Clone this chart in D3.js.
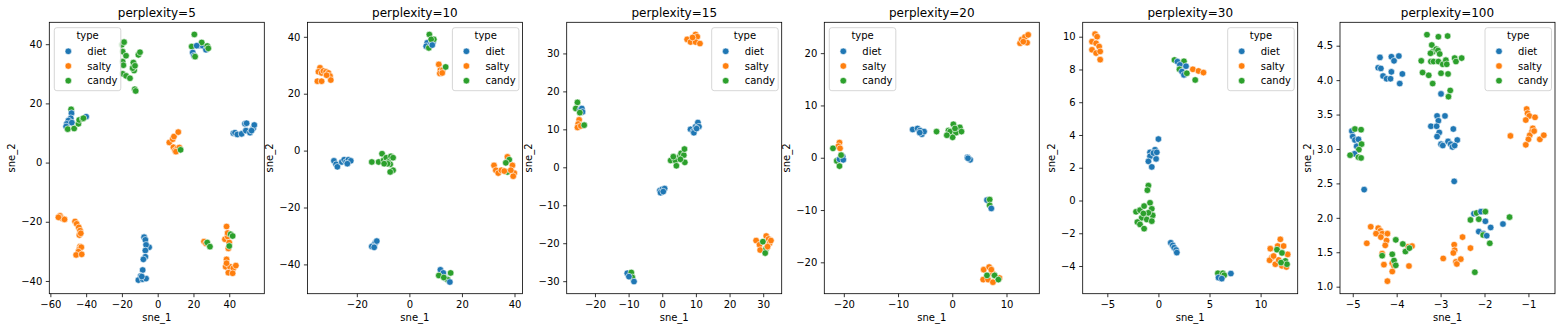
<!DOCTYPE html>
<html><head><meta charset="utf-8">
<script src="https://cdn.jsdelivr.net/npm/d3@7"></script>
<style>body{margin:0;background:#fff} text{font-family:"DejaVu Sans",sans-serif}</style>
</head><body><svg id="c" width="1563" height="333"></svg>
<script>
const types = ["diet","salty","candy"];
const titles = ["perplexity=5","perplexity=10","perplexity=15","perplexity=20","perplexity=30","perplexity=100"];

// [sne_1, sne_2, type]
const perp5 = [
[-20.1,39.8,"candy"],[-18.8,40.7,"candy"],[-19.6,37.5,"candy"],[-17.7,36.1,"candy"],[-19.6,34.1,"candy"],[-19.2,32.9,"candy"],[-19.6,30.0,"candy"],[-17.7,29.3,"candy"],[-15.5,28.5,"candy"],[-13.6,33.8,"candy"],[-13.2,31.1,"candy"],[-14.0,31.9,"candy"],[-12.7,32.7,"candy"],[-10.8,36.4,"candy"],[-9.9,37.3,"candy"],[-12.8,24.8,"candy"],[-12.3,24.2,"candy"],
[20.5,43.3,"candy"],[19.0,39.2,"candy"],[19.6,37.2,"diet"],[20.3,36.1,"diet"],[20.9,35.8,"candy"],[22.7,39.5,"diet"],[25.1,39.5,"diet"],[24.6,40.6,"candy"],[27.0,38.1,"diet"],[27.7,39.4,"candy"],[28.3,38.6,"candy"],[21.8,39.5,"diet"],
[-48.4,18.0,"candy"],[-48.2,16.7,"diet"],[-48.6,15.0,"diet"],[-49.9,14.2,"diet"],[-50.8,13.1,"diet"],[-51.2,12.2,"diet"],[-50.3,11.3,"candy"],[-48.0,13.5,"diet"],[-46.7,11.5,"candy"],[-44.3,13.1,"candy"],[-43.9,14.4,"candy"],[-41.9,14.8,"candy"],[-40.0,15.5,"diet"],[-41.5,15.0,"candy"],
[42.3,9.9,"diet"],[43.2,10.1,"diet"],[44.5,9.5,"diet"],[46.9,9.7,"diet"],[48.8,13.1,"diet"],[49.7,13.3,"diet"],[49.3,10.8,"diet"],[51.6,10.1,"diet"],[53.4,11.6,"diet"],[54.0,12.7,"diet"],[52.5,10.8,"diet"],
[6.5,6.8,"salty"],[8.4,7.9,"salty"],[9.1,8.8,"salty"],[11.5,10.3,"salty"],[8.8,5.2,"salty"],[9.7,4.1,"salty"],[11.0,4.8,"salty"],[12.1,5.1,"salty"],[10.2,3.7,"salty"],[12.8,4.3,"candy"],
[-54.6,-18.0,"salty"],[-53.6,-18.8,"salty"],[-52.1,-19.2,"salty"],[-55.5,-18.5,"salty"],[-46.2,-19.9,"salty"],[-45.3,-20.7,"salty"],[-44.1,-21.9,"salty"],[-43.4,-23.0,"salty"],[-43.8,-24.5,"salty"],[-43.0,-23.9,"salty"],[-43.4,-28.4,"salty"],[-43.8,-29.3,"salty"],[-42.7,-28.6,"salty"],[-44.3,-30.1,"salty"],[-45.6,-31.2,"salty"],[-42.5,-31.0,"salty"],
[-7.6,-25.2,"diet"],[-6.9,-26.1,"diet"],[-4.8,-28.6,"diet"],[-6.5,-27.8,"diet"],[-6.9,-29.7,"diet"],[-6.9,-31.8,"diet"],[-8.0,-32.7,"diet"],[-8.4,-36.3,"diet"],[-9.5,-38.3,"diet"],[-10.8,-39.7,"diet"],[-8.4,-39.4,"diet"],[-6.5,-39.2,"diet"],[-8.9,-38.5,"diet"],
[25.9,-26.7,"salty"],[27.0,-27.3,"salty"],[27.7,-27.0,"candy"],[29.2,-28.4,"candy"],[38.5,-21.6,"salty"],[37.6,-25.9,"salty"],[39.1,-25.0,"salty"],[40.0,-27.0,"salty"],[39.5,-29.0,"salty"],[39.1,-23.8,"salty"],[40.8,-24.2,"candy"],[41.9,-24.8,"candy"],[40.0,-28.2,"candy"],[38.5,-32.7,"salty"],[38.0,-35.2,"salty"],[40.4,-35.2,"salty"],[42.3,-35.7,"salty"],[43.7,-34.8,"salty"],[39.5,-37.2,"salty"],[41.9,-37.4,"salty"],[38.5,-34.0,"salty"]
];

const perp10 = [
[-34.0,29.1,"salty"],[-34.6,27.7,"salty"],[-33.4,27.3,"salty"],[-32.7,28.0,"salty"],[-35.0,24.4,"salty"],[-33.4,24.4,"salty"],[-31.7,27.7,"salty"],[-30.8,27.3,"salty"],[-30.2,26.2,"salty"],[-29.9,24.8,"salty"],[-31.5,26.5,"salty"],
[7.6,40.8,"candy"],[6.8,37.9,"diet"],[6.4,36.7,"diet"],[7.4,36.1,"candy"],[8.3,37.7,"diet"],[9.0,38.2,"diet"],[9.3,39.1,"candy"],[8.3,39.1,"candy"],[8.7,37.1,"diet"],
[11.2,30.3,"salty"],[11.8,28.3,"salty"],[11.6,27.1,"salty"],[12.7,28.3,"salty"],[13.8,29.4,"candy"],[12.5,27.3,"salty"],
[-28.7,-3.6,"diet"],[-27.9,-4.8,"diet"],[-27.4,-5.7,"diet"],[-25.7,-4.0,"diet"],[-24.8,-3.2,"diet"],[-24.1,-4.0,"diet"],[-23.2,-3.2,"diet"],[-22.3,-3.6,"diet"],[-23.6,-4.6,"diet"],
[-14.3,-4.0,"candy"],[-11.7,-4.0,"candy"],[-10.4,-1.1,"candy"],[-9.8,-3.4,"candy"],[-8.8,-2.5,"candy"],[-7.9,-4.0,"candy"],[-7.3,-4.8,"candy"],[-7.0,-2.0,"candy"],[-6.2,-2.5,"candy"],[-6.2,-6.9,"candy"],[-7.3,-7.5,"candy"],[-8.3,-4.6,"candy"],[-9.6,-4.6,"candy"],
[32.2,-5.2,"salty"],[32.9,-6.9,"salty"],[33.8,-7.9,"salty"],[35.0,-6.9,"salty"],[37.3,-2.2,"salty"],[38.0,-3.2,"candy"],[36.7,-4.3,"candy"],[37.3,-7.5,"candy"],[39.2,-5.2,"salty"],[39.9,-7.9,"salty"],[39.5,-9.0,"salty"],[38.6,-6.9,"salty"],[36.1,-7.2,"salty"],
[-13.6,-33.3,"diet"],[-13.0,-32.5,"diet"],[-12.4,-31.8,"diet"],[-14.3,-33.7,"diet"],[-13.4,-34.0,"diet"],
[11.8,-41.9,"diet"],[12.9,-43.0,"diet"],[11.2,-43.9,"candy"],[13.8,-45.0,"diet"],[14.6,-45.4,"candy"],[15.4,-46.2,"diet"],[15.7,-43.0,"candy"],[13.1,-44.6,"candy"]
];

const perp15 = [
[7.4,33.7,"salty"],[8.4,33.0,"salty"],[9.9,35.0,"salty"],[10.4,34.4,"salty"],[9.9,33.0,"salty"],[11.2,32.6,"salty"],[9.0,34.2,"salty"],
[-25.2,17.1,"candy"],[-25.7,15.5,"candy"],[-24.4,15.1,"diet"],[-23.9,15.5,"diet"],[-23.7,14.6,"diet"],[-24.5,14.4,"candy"],
[-24.7,12.5,"salty"],[-25.0,11.4,"salty"],[-25.2,10.5,"salty"],[-24.2,10.9,"salty"],[-23.2,11.1,"candy"],
[8.4,10.0,"diet"],[9.2,9.4,"diet"],[9.9,10.7,"diet"],[10.6,11.8,"diet"],[10.9,10.7,"diet"],[9.4,9.1,"diet"],[10.2,10.2,"diet"],
[2.5,1.8,"candy"],[3.9,1.8,"candy"],[4.2,0.4,"candy"],[5.2,2.8,"candy"],[5.6,3.7,"candy"],[6.4,3.2,"candy"],[6.6,4.8,"candy"],[6.7,1.3,"candy"],[5.4,2.1,"candy"],[3.3,2.8,"candy"],
[-0.7,-6.1,"diet"],[0.0,-5.8,"diet"],[0.7,-5.6,"diet"],[-0.5,-6.7,"diet"],[0.3,-6.4,"diet"],
[-10.4,-27.9,"diet"],[-9.2,-27.7,"candy"],[-8.9,-29.0,"candy"],[-8.4,-30.1,"diet"],[-9.9,-28.8,"diet"],
[27.9,-19.3,"salty"],[28.9,-20.4,"salty"],[29.1,-21.8,"salty"],[30.9,-18.1,"salty"],[31.6,-18.9,"salty"],[31.9,-20.0,"salty"],[32.3,-19.3,"salty"],[29.9,-19.6,"candy"],[30.9,-21.4,"candy"],[30.6,-22.6,"candy"],[31.3,-20.9,"salty"]
];

const perp20 = [
[12.5,21.9,"salty"],[12.8,22.6,"salty"],[13.4,23.1,"salty"],[14.0,23.5,"salty"],[13.8,22.0,"salty"],[13.1,22.2,"salty"],
[-20.8,2.9,"salty"],[-21.0,2.2,"salty"],[-20.7,1.8,"salty"],[-22.0,1.8,"candy"],[-21.3,-0.6,"candy"],[-20.8,-0.3,"diet"],[-20.2,0.2,"diet"],[-20.1,-0.4,"diet"],[-20.8,-1.6,"candy"],[-20.5,0.5,"candy"],
[-7.3,5.4,"diet"],[-6.4,5.6,"diet"],[-5.95,5.2,"diet"],[-5.6,4.5,"diet"],[-5.2,5.0,"diet"],[-6.0,4.8,"diet"],
[-2.9,5.0,"candy"],[-0.7,5.2,"candy"],[0.2,6.4,"candy"],[-0.4,5.0,"candy"],[0.7,4.8,"candy"],[0.06,3.9,"candy"],[1.4,5.8,"candy"],[1.7,5.0,"candy"],[-1.0,4.3,"candy"],[0.5,5.6,"candy"],
[2.8,0.06,"diet"],[3.3,-0.4,"diet"],[2.9,-0.1,"diet"],
[6.4,-8.1,"diet"],[6.9,-8.0,"candy"],[6.9,-9.1,"candy"],[7.2,-9.7,"diet"],
[5.8,-21.4,"salty"],[5.7,-23.3,"salty"],[6.6,-23.3,"salty"],[6.8,-20.9,"salty"],[7.5,-22.2,"salty"],[7.5,-23.8,"salty"],[8.7,-23.0,"salty"],[6.4,-22.5,"candy"],[7.8,-22.5,"candy"],[8.5,-23.3,"candy"],[7.2,-21.4,"salty"]
];

const perp30 = [
[-6.2,10.16,"salty"],[-6.0,10.0,"salty"],[-6.5,9.7,"salty"],[-6.1,9.6,"salty"],[-5.8,9.4,"salty"],[-6.5,9.2,"salty"],[-6.1,9.0,"salty"],[-5.7,9.1,"salty"],[-5.7,8.6,"salty"],
[1.57,8.58,"candy"],[1.86,8.48,"diet"],[2.5,8.5,"candy"],[2.1,8.28,"diet"],[2.7,8.2,"diet"],[2.06,8.01,"candy"],[2.3,7.87,"diet"],[2.5,7.67,"diet"],[2.78,7.77,"candy"],[3.37,8.01,"salty"],[3.92,7.91,"salty"],[4.41,7.81,"salty"],[3.6,7.36,"candy"],
[0.0,3.75,"diet"],[-0.33,3.1,"diet"],[-0.23,2.54,"diet"],[-0.82,2.94,"diet"],[-0.82,2.7,"diet"],[-0.98,2.39,"diet"],[-0.65,2.05,"diet"],[-0.49,2.9,"diet"],[-0.16,2.94,"diet"],
[-0.98,0.91,"candy"],[-1.08,0.63,"candy"],[-2.19,-0.69,"candy"],[-1.8,-0.59,"candy"],[-1.4,-0.34,"candy"],[-0.82,-0.14,"candy"],[-0.65,-0.51,"candy"],[-0.56,-0.91,"candy"],[-1.21,-0.91,"candy"],[-1.63,-1.05,"candy"],[-2.06,-1.32,"candy"],[-1.8,-1.46,"candy"],[-1.4,-1.72,"candy"],[-1.14,-1.16,"candy"],[-0.65,-1.26,"candy"],[-0.98,-0.75,"candy"],[-1.47,-0.79,"candy"],
[1.21,-2.58,"diet"],[1.4,-2.74,"diet"],[1.54,-2.88,"diet"],[1.73,-3.02,"diet"],[1.8,-3.18,"diet"],
[5.82,-4.44,"candy"],[5.88,-4.71,"diet"],[6.31,-4.44,"candy"],[6.44,-4.56,"candy"],[6.2,-4.77,"diet"],[7.09,-4.46,"diet"],
[10.95,-2.94,"salty"],[11.93,-2.37,"salty"],[11.67,-2.78,"salty"],[12.25,-2.78,"salty"],[12.65,-3.29,"salty"],[11.1,-3.49,"salty"],[10.88,-3.65,"salty"],[11.44,-3.89,"salty"],[11.77,-3.63,"salty"],[12.09,-3.99,"salty"],[12.52,-4.06,"salty"],[11.27,-3.39,"salty"],[11.6,-3.0,"candy"],[12.09,-3.2,"candy"],[12.42,-3.69,"candy"],[12.58,-3.89,"candy"],[12.0,-3.79,"candy"]
];

const perp100 = [
[-4.38,4.33,"diet"],[-4.42,4.18,"diet"],[-4.36,4.17,"diet"],[-4.31,4.06,"diet"],[-4.23,4.02,"diet"],[-4.14,4.02,"diet"],[-4.12,4.12,"diet"],[-4.12,4.34,"diet"],[-4.06,4.28,"diet"],[-3.95,4.35,"diet"],[-3.87,4.09,"diet"],[-3.93,3.95,"diet"],
[-3.31,4.66,"candy"],[-3.05,4.63,"candy"],[-2.84,4.64,"candy"],[-3.44,4.28,"candy"],[-3.41,4.11,"candy"],[-3.27,4.07,"candy"],[-3.2,4.51,"candy"],[-3.18,4.41,"candy"],[-3.23,4.39,"candy"],[-3.1,4.45,"candy"],[-3.06,4.43,"candy"],[-3.02,4.38,"candy"],[-3.22,4.27,"candy"],[-3.16,4.27,"candy"],[-3.05,4.27,"candy"],[-3.18,3.95,"candy"],[-2.99,4.1,"candy"],[-2.95,4.23,"candy"],[-2.88,4.29,"candy"],[-2.86,4.23,"candy"],[-2.83,4.09,"candy"],[-2.68,4.32,"candy"],[-2.65,4.27,"candy"],[-2.52,4.32,"candy"],[-2.78,3.85,"candy"],[-2.82,3.76,"candy"],
[-2.99,3.8,"diet"],
[-3.08,3.48,"diet"],[-3.05,3.41,"diet"],[-2.9,3.48,"diet"],[-3.22,3.33,"diet"],[-3.09,3.33,"diet"],[-3.03,3.24,"diet"],[-3.08,3.18,"diet"],[-2.99,3.07,"diet"],[-2.95,3.05,"diet"],[-2.83,3.11,"diet"],[-2.77,3.07,"diet"],[-2.73,3.03,"diet"],[-2.71,3.29,"diet"],[-2.62,3.13,"diet"],[-2.68,3.05,"diet"],[-2.69,2.53,"diet"],
[-5.02,3.26,"diet"],[-4.95,3.29,"candy"],[-4.81,3.28,"candy"],[-5.0,3.18,"diet"],[-4.95,3.13,"diet"],[-4.87,3.14,"diet"],[-4.91,3.04,"diet"],[-4.8,3.07,"candy"],[-4.86,2.99,"candy"],[-4.96,2.93,"diet"],[-5.06,2.91,"candy"],[-4.87,2.88,"candy"],[-4.81,2.87,"candy"],[-4.74,2.41,"diet"],
[-1.04,3.58,"salty"],[-1.02,3.52,"salty"],[-0.98,3.48,"salty"],[-1.06,3.42,"salty"],[-0.85,3.46,"salty"],[-0.9,3.3,"salty"],[-0.92,3.25,"salty"],[-0.97,3.2,"salty"],[-1.0,3.14,"salty"],[-1.06,3.06,"salty"],[-0.74,3.14,"salty"],[-0.65,3.2,"salty"],[-1.41,3.19,"salty"],[-0.87,3.26,"salty"],
[-4.59,1.87,"salty"],[-4.42,1.85,"salty"],[-4.37,1.81,"salty"],[-4.33,1.77,"salty"],[-4.47,1.77,"salty"],[-4.36,1.72,"salty"],[-4.21,1.77,"salty"],[-4.23,1.67,"salty"],[-4.26,1.6,"salty"],[-4.68,1.63,"salty"],[-4.33,1.48,"salty"],[-4.29,1.32,"salty"],[-4.1,1.34,"salty"],[-4.06,1.3,"salty"],[-4.1,1.22,"salty"],[-4.21,1.08,"salty"],[-3.74,1.58,"salty"],[-3.65,1.59,"salty"],[-3.72,1.3,"salty"],
[-4.02,1.68,"candy"],[-4.1,1.47,"candy"],[-4.33,1.45,"candy"],[-4.06,1.38,"candy"],[-3.86,1.62,"candy"],[-3.8,1.51,"candy"],[-3.71,1.56,"candy"],[-4.02,1.31,"candy"],
[-2.94,1.41,"salty"],[-2.69,1.61,"salty"],[-2.68,1.53,"salty"],[-2.71,1.49,"salty"],[-2.65,1.36,"salty"],[-2.63,1.33,"salty"],[-2.54,1.4,"salty"],[-2.5,1.72,"salty"],[-2.32,1.56,"salty"],
[-2.32,1.97,"candy"],[-2.24,2.06,"diet"],[-2.18,2.07,"candy"],[-2.08,2.09,"diet"],[-1.98,2.09,"candy"],[-2.13,1.98,"candy"],[-1.98,1.95,"diet"],[-2.13,1.8,"diet"],[-2.03,1.77,"diet"],[-2.03,1.75,"candy"],[-1.95,1.74,"diet"],[-1.88,1.63,"candy"],[-1.86,1.86,"diet"],[-1.58,1.91,"diet"],[-1.43,2.01,"candy"],[-2.22,1.21,"candy"]
];

const xTicks = [[-60,-40,-20,0,20,40],[-20,0,20,40],[-20,-10,0,10,20,30],[-20,-10,0,10],[-5,0,5,10],[-5,-4,-3,-2,-1]];
const yTicks = [[-40,-20,0,20,40],[-40,-20,0,20,40],[-30,-20,-10,0,10,20,30],[-20,-10,0,10,20],[-4,-2,0,2,4,6,8,10],[1.0,1.5,2.0,2.5,3.0,3.5,4.0,4.5]];
const datasets = [perp5, perp10, perp15, perp20, perp30, perp100];

// axis view limits (as matplotlib autoscaled them)
const xDomains = [[-60.6,59.6],[-38.8,43.0],[-28.4,35.5],[-23.6,16.05],[-7.41,13.63],[-5.29,-0.395]];
const yDomains = [[-44.3,47.4],[-50.3,45.1],[-33.3,38.2],[-26.0,25.9],[-5.69,10.88],[0.898,4.84]];
const legendSide = ["left","right","right","left","right","right"];

const svg = d3.select("#c");
const W = 215, H = 271.4, TOP = 22.3;
const lefts = [49.3,307.4,566.7,824.3,1082.7,1340];
const color = d3.scaleOrdinal().domain(types).range(["#1f77b4","#ff7f0e","#2ca02c"]);
const FONT = "DejaVu Sans";

datasets.forEach((data,i)=>{
  const g = svg.append("g").attr("transform",`translate(${lefts[i]},${TOP})`);
  const x = d3.scaleLinear().domain(xDomains[i]).range([0,W]);
  const y = d3.scaleLinear().domain(yDomains[i]).range([H,0]);

  g.append("g").selectAll("circle").data(data).join("circle")
    .attr("cx",d=>x(d[0])).attr("cy",d=>y(d[1])).attr("r",3.3)
    .attr("fill",d=>color(d[2])).attr("stroke","#fff").attr("stroke-width",0.6);

  const fmtY = i===5 ? d3.format(".1f") : d3.format("");
  const xa = g.append("g").attr("transform",`translate(0,${H})`)
    .call(d3.axisBottom(x).tickValues(xTicks[i]).tickSize(3.5).tickPadding(3.5).tickFormat(d3.format("")));
  const ya = g.append("g")
    .call(d3.axisLeft(y).tickValues(yTicks[i]).tickSize(3.5).tickPadding(3.5).tickFormat(fmtY));
  [xa,ya].forEach(a=>{
    a.select(".domain").remove();
    a.attr("font-family",FONT).attr("font-size",10);
    a.selectAll("line").attr("stroke","#000").attr("stroke-width",0.8);
    a.selectAll("text").attr("fill","#000");
  });

  g.append("rect").attr("width",W).attr("height",H).attr("fill","none")
    .attr("stroke","#000").attr("stroke-width",0.8);

  // title
  g.append("text").attr("x",W/2).attr("y",-5.8).attr("text-anchor","middle")
    .attr("font-size",12).attr("font-family",FONT).attr("fill","#000").text(titles[i]);
  // x label
  g.append("text").attr("x",W/2).attr("y",H+27.3).attr("text-anchor","middle")
    .attr("font-size",10).attr("font-family",FONT).attr("fill","#000").text("sne_1");
  // y label
  let maxW = 0;
  ya.selectAll("text").each(function(){ maxW = Math.max(maxW, this.getBBox().width); });
  const lx = -7 - maxW - 4 - 2.4;
  g.append("text").attr("transform",`translate(${lx},${H/2}) rotate(-90)`).attr("text-anchor","middle")
    .attr("font-size",10).attr("font-family",FONT).attr("fill","#000").text("sne_2");

  // legend
  const LW = 66.5, LH = 63;
  const lgx = legendSide[i]==="left" ? 5 : W - 3.5 - LW;
  const lg = g.append("g").attr("transform",`translate(${lgx},5.4)`);
  lg.append("rect").attr("width",LW).attr("height",LH).attr("rx",2.5)
    .attr("fill","#fff").attr("fill-opacity",0.8).attr("stroke","#cccccc").attr("stroke-width",0.8);
  lg.append("text").attr("x",LW/2).attr("y",11.6).attr("text-anchor","middle")
    .attr("font-size",10).attr("font-family",FONT).attr("fill","#000").text("type");
  types.forEach((t,k)=>{
    const cy = 23.6 + k*14.7;
    lg.append("circle").attr("cx",14).attr("cy",cy).attr("r",3.3).attr("fill",color(t))
      .attr("stroke","#fff").attr("stroke-width",0.6);
    lg.append("text").attr("x",33).attr("y",cy+3.6).attr("font-size",10)
      .attr("font-family",FONT).attr("fill","#000").text(t);
  });
});
</script></body></html>
